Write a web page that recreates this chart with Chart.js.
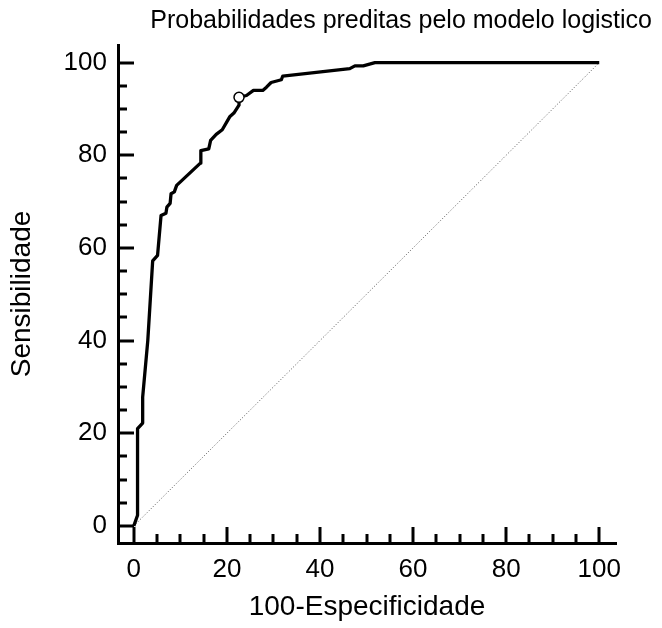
<!DOCTYPE html>
<html>
<head>
<meta charset="utf-8">
<script src="https://cdn.jsdelivr.net/npm/chart.js@4.4.1/dist/chart.umd.min.js"></script>
<style>
  html, body { margin: 0; padding: 0; background: #fff; }
  #wrap { width: 662px; height: 628px; }
</style>
</head>
<body>
<div id="wrap"><canvas id="rocChart"></canvas></div>
<script>
// ROC curve: 100-especificidade (x) vs sensibilidade (y)
const rocX = [0, 0.8, 0.8, 1.9, 1.9, 3.0, 4.05, 5.1, 5.85, 6.9, 7.1, 7.8, 8.0, 8.7, 9.2, 14.3, 14.4, 16.1, 16.5, 17.7, 19.0, 20.6, 21.5, 22.6, 22.6, 24.2, 25.7, 27.7, 28.5, 29.5, 31.7, 32.0, 46.4, 47.5, 49.3, 51.8, 100];
const rocY = [0, 2.3, 21.0, 22.2, 27.8, 40.0, 57.2, 58.4, 67.0, 67.5, 68.8, 69.6, 71.7, 72.1, 73.5, 78.3, 81.0, 81.4, 83.2, 84.5, 85.5, 88.3, 89.1, 90.8, 92.5, 92.9, 94.0, 94.0, 94.7, 95.7, 96.3, 97.1, 98.7, 99.3, 99.3, 100, 100];

// reference diagonal
const diagX = [0, 100];
const diagY = [0, 100];

// the marked cut-off point
const cutX = [22.6];
const cutY = [92.5];

const tickVals = [0, 20, 40, 60, 80, 100];

const chartTitle = 'Probabilidades preditas pelo modelo logistico';
const xTitle = '100-Especificidade';
const yTitle = 'Sensibilidade';
const FONT = "'Liberation Sans', Arial, sans-serif";

function toPoints(xs, ys) {
    return xs.map((x, i) => ({ x: x, y: ys[i] }));
}

// ticks point inward like the original (major every 20, minor every 5), plus the title
const innerTicks = {
    id: 'innerTicks',
    afterDraw(chart) {
        const ctx = chart.ctx;
        const xs = chart.scales.x;
        const ys = chart.scales.y;
        const area = chart.chartArea;
        ctx.save();
        ctx.strokeStyle = '#000';
        ctx.lineWidth = 3;
        for (let v = 0; v <= 100; v += 5) {
            const len = v % 20 === 0 ? 16 : 9;
            const px = Math.round(xs.getPixelForValue(v));
            ctx.beginPath();
            ctx.moveTo(px, area.bottom);
            ctx.lineTo(px, area.bottom - len);
            ctx.stroke();
            const py = Math.round(ys.getPixelForValue(v));
            ctx.beginPath();
            ctx.moveTo(area.left, py);
            ctx.lineTo(area.left + len, py);
            ctx.stroke();
        }
        ctx.fillStyle = '#000';
        ctx.font = '25px ' + FONT;
        ctx.textAlign = 'right';
        ctx.textBaseline = 'middle';
        ctx.fillText(chartTitle, 652, 21);
        ctx.restore();
    }
};

new Chart('rocChart', {
    type: 'scatter',
    data: {
        datasets: [
            {
                data: toPoints(cutX, cutY),
                showLine: false,
                pointRadius: 5,
                pointBackgroundColor: '#fff',
                pointBorderColor: '#000',
                pointBorderWidth: 1.5,
                order: 0
            },
            {
                data: toPoints(rocX, rocY),
                showLine: true,
                borderColor: '#000',
                borderWidth: 3.3,
                borderJoinStyle: 'round',
                pointRadius: 0,
                tension: 0,
                order: 1
            },
            {
                data: toPoints(diagX, diagY),
                showLine: true,
                borderColor: '#555',
                borderWidth: 1,
                borderDash: [1, 2],
                pointRadius: 0,
                order: 2
            }
        ]
    },
    options: {
        responsive: true,
        maintainAspectRatio: false,
        animation: false,
        layout: { padding: { left: 0, right: 46, top: 45, bottom: 0 } },
        plugins: {
            legend: { display: false },
            tooltip: { enabled: false }
        },
        scales: {
            x: {
                type: 'linear',
                min: -3.4,
                max: 103.6,
                afterBuildTicks: s => { s.ticks = tickVals.map(v => ({ value: v })); },
                afterFit: s => { s.height = 85; },
                grid: { display: false, drawTicks: false },
                border: { display: true, color: '#000', width: 3 },
                ticks: { color: '#000', padding: 11, font: { family: FONT, size: 26 }, maxRotation: 0 },
                title: { display: true, text: xTitle, color: '#000', font: { family: FONT, size: 28 }, padding: { top: 0, bottom: 4 } }
            },
            y: {
                type: 'linear',
                min: -3.7,
                max: 103.8,
                afterBuildTicks: s => { s.ticks = tickVals.map(v => ({ value: v })); },
                afterFit: s => { s.width = 118; },
                grid: { display: false, drawTicks: false },
                border: { display: true, color: '#000', width: 3 },
                ticks: { color: '#000', padding: 11, font: { family: FONT, size: 26 } },
                title: { display: true, text: yTitle, color: '#000', font: { family: FONT, size: 28 }, padding: { top: 5, bottom: 0 } }
            }
        }
    },
    plugins: [innerTicks]
});
</script>
</body>
</html>
